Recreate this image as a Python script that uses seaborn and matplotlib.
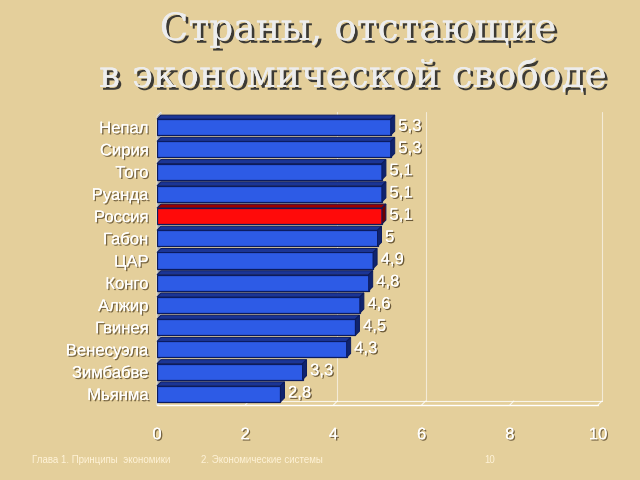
import matplotlib
matplotlib.use("Agg")
import matplotlib.pyplot as plt
import matplotlib.patheffects as pe
from matplotlib.patches import Polygon
import seaborn as sns

# Data
countries = ['Непал', 'Сирия', 'Того', 'Руанда', 'Россия', 'Габон', 'ЦАР',
             'Конго', 'Алжир', 'Гвинея', 'Венесуэла', 'Зимбабве', 'Мьянма']
scores = [5.3, 5.3, 5.1, 5.1, 5.1, 5.0, 4.9, 4.8, 4.6, 4.5, 4.3, 3.3, 2.8]
highlight = 'Россия'
x_ticks = [0, 2, 4, 6, 8, 10]
title_lines = ['Страны, отстающие', 'в экономической свободе']

BG = '#E4CF9B'
BLUE = '#2D5BE6'
RED = '#FF0A0A'

sns.set_theme(style='white')
plt.rcParams['font.family'] = ['Liberation Sans Narrow', 'Liberation Sans', 'DejaVu Sans']

fig = plt.figure(figsize=(6.4, 4.8), dpi=100, facecolor=BG)
ax = fig.add_axes([157 / 640, 1 - 405 / 480, 441 / 640, 289 / 480])
ax.set_facecolor('none')

palette = {c: (RED if c == highlight else BLUE) for c in countries}
sns.barplot(x=scores, y=countries, hue=countries, palette=palette, legend=False,
            orient='h', width=0.72, edgecolor='#0B1B5E', linewidth=0.9,
            saturation=1, ax=ax, zorder=3)

ax.set_xlim(0, 10)
ax.set_ylim(12.5, -0.5)

# 3D depth offsets (in data units)
dx = 4 / 44.1
dy = 4 / 22.25

# back wall grid + floor
y_floor = 12.5
for t in x_ticks:
    ax.plot([t, t + dx], [y_floor, y_floor - dy], color='white', lw=0.8,
            alpha=0.8, clip_on=False, zorder=1)
    if t in (4, 6, 10):
        ax.plot([t + dx, t + dx], [y_floor - dy, -0.5 - dy], color='white',
                lw=0.8, alpha=0.6, clip_on=False, zorder=1)
ax.plot([0, 10], [y_floor, y_floor], color='white', lw=1, clip_on=False, zorder=1)
ax.plot([dx, 10 + dx], [y_floor - dy, y_floor - dy], color='white', lw=0.8,
        alpha=0.8, clip_on=False, zorder=1)
# left wall
ax.add_patch(Polygon([(0, y_floor), (dx, y_floor - dy), (dx, -0.5 - dy), (0, -0.5)],
                     closed=True, facecolor='#A8A8A8', edgecolor='#E8E8E8',
                     lw=0.6, clip_on=False, zorder=2))

# 3D top and side faces on each bar
for patch, c, v in zip(ax.patches, countries, scores):
    x0 = patch.get_x()
    y0 = patch.get_y()
    w = patch.get_width()
    h = patch.get_height()
    top_col = '#9A0000' if c == highlight else '#1B3596'
    side_col = '#6E0000' if c == highlight else '#10246E'
    ax.add_patch(Polygon([(x0, y0), (x0 + w, y0), (x0 + w + dx, y0 - dy), (x0 + dx, y0 - dy)],
                         closed=True, facecolor=top_col, edgecolor='#0B1B5E',
                         lw=0.7, zorder=4, clip_on=False))
    ax.add_patch(Polygon([(x0 + w, y0), (x0 + w + dx, y0 - dy), (x0 + w + dx, y0 + h - dy), (x0 + w, y0 + h)],
                         closed=True, facecolor=side_col, edgecolor='#0B1B5E',
                         lw=0.7, zorder=4, clip_on=False))
    label = f"{v:g}".replace('.', ',')
    ax.text(x0 + w + dx + 0.08, y0 + h / 2 - dy / 2 + 0.05, label, color='white',
            fontsize=12, va='center', ha='left', zorder=5,
            path_effects=[pe.withSimplePatchShadow(offset=(1, -1), shadow_rgbFace='#4A3A20', alpha=0.8),
                          pe.Normal()])

shadow = [pe.withSimplePatchShadow(offset=(1, -1), shadow_rgbFace='#4A3A20', alpha=0.7), pe.Normal()]

ax.set_xticks(x_ticks)
ax.set_xticklabels([str(t) for t in x_ticks])
ax.tick_params(axis='x', colors='white', length=0, pad=16, labelsize=12)
ax.tick_params(axis='y', colors='white', length=0, pad=6, labelsize=12)
for lab in ax.get_xticklabels() + ax.get_yticklabels():
    lab.set_path_effects(shadow)
ax.set_xlabel('')
ax.set_ylabel('')
sns.despine(ax=ax, left=True, bottom=True)

# Title (two lines, placed by baseline)
title_fx = [pe.withSimplePatchShadow(offset=(2, -2), shadow_rgbFace='#2A2A2A', alpha=0.9),
            pe.Normal()]
for line, xc, yb in zip(title_lines, (358, 353), (40, 87)):
    fig.text(xc / 640, 1 - yb / 480, line, ha='center', va='baseline',
             fontsize=27, color='#EDEDED', family=['DejaVu Serif'],
             path_effects=title_fx)

# Footer
foot = dict(fontsize=7, color='#FFF3D8', va='center')
fig.text(32 / 640, 1 - 460 / 480, 'Глава 1. Принципы  экономики', ha='left', **foot)
fig.text(262 / 640, 1 - 460 / 480, '2. Экономические системы', ha='center', **foot)
fig.text(490 / 640, 1 - 460 / 480, '10', ha='center', **foot)

fig.savefig('out.png', dpi=100, facecolor=BG)
